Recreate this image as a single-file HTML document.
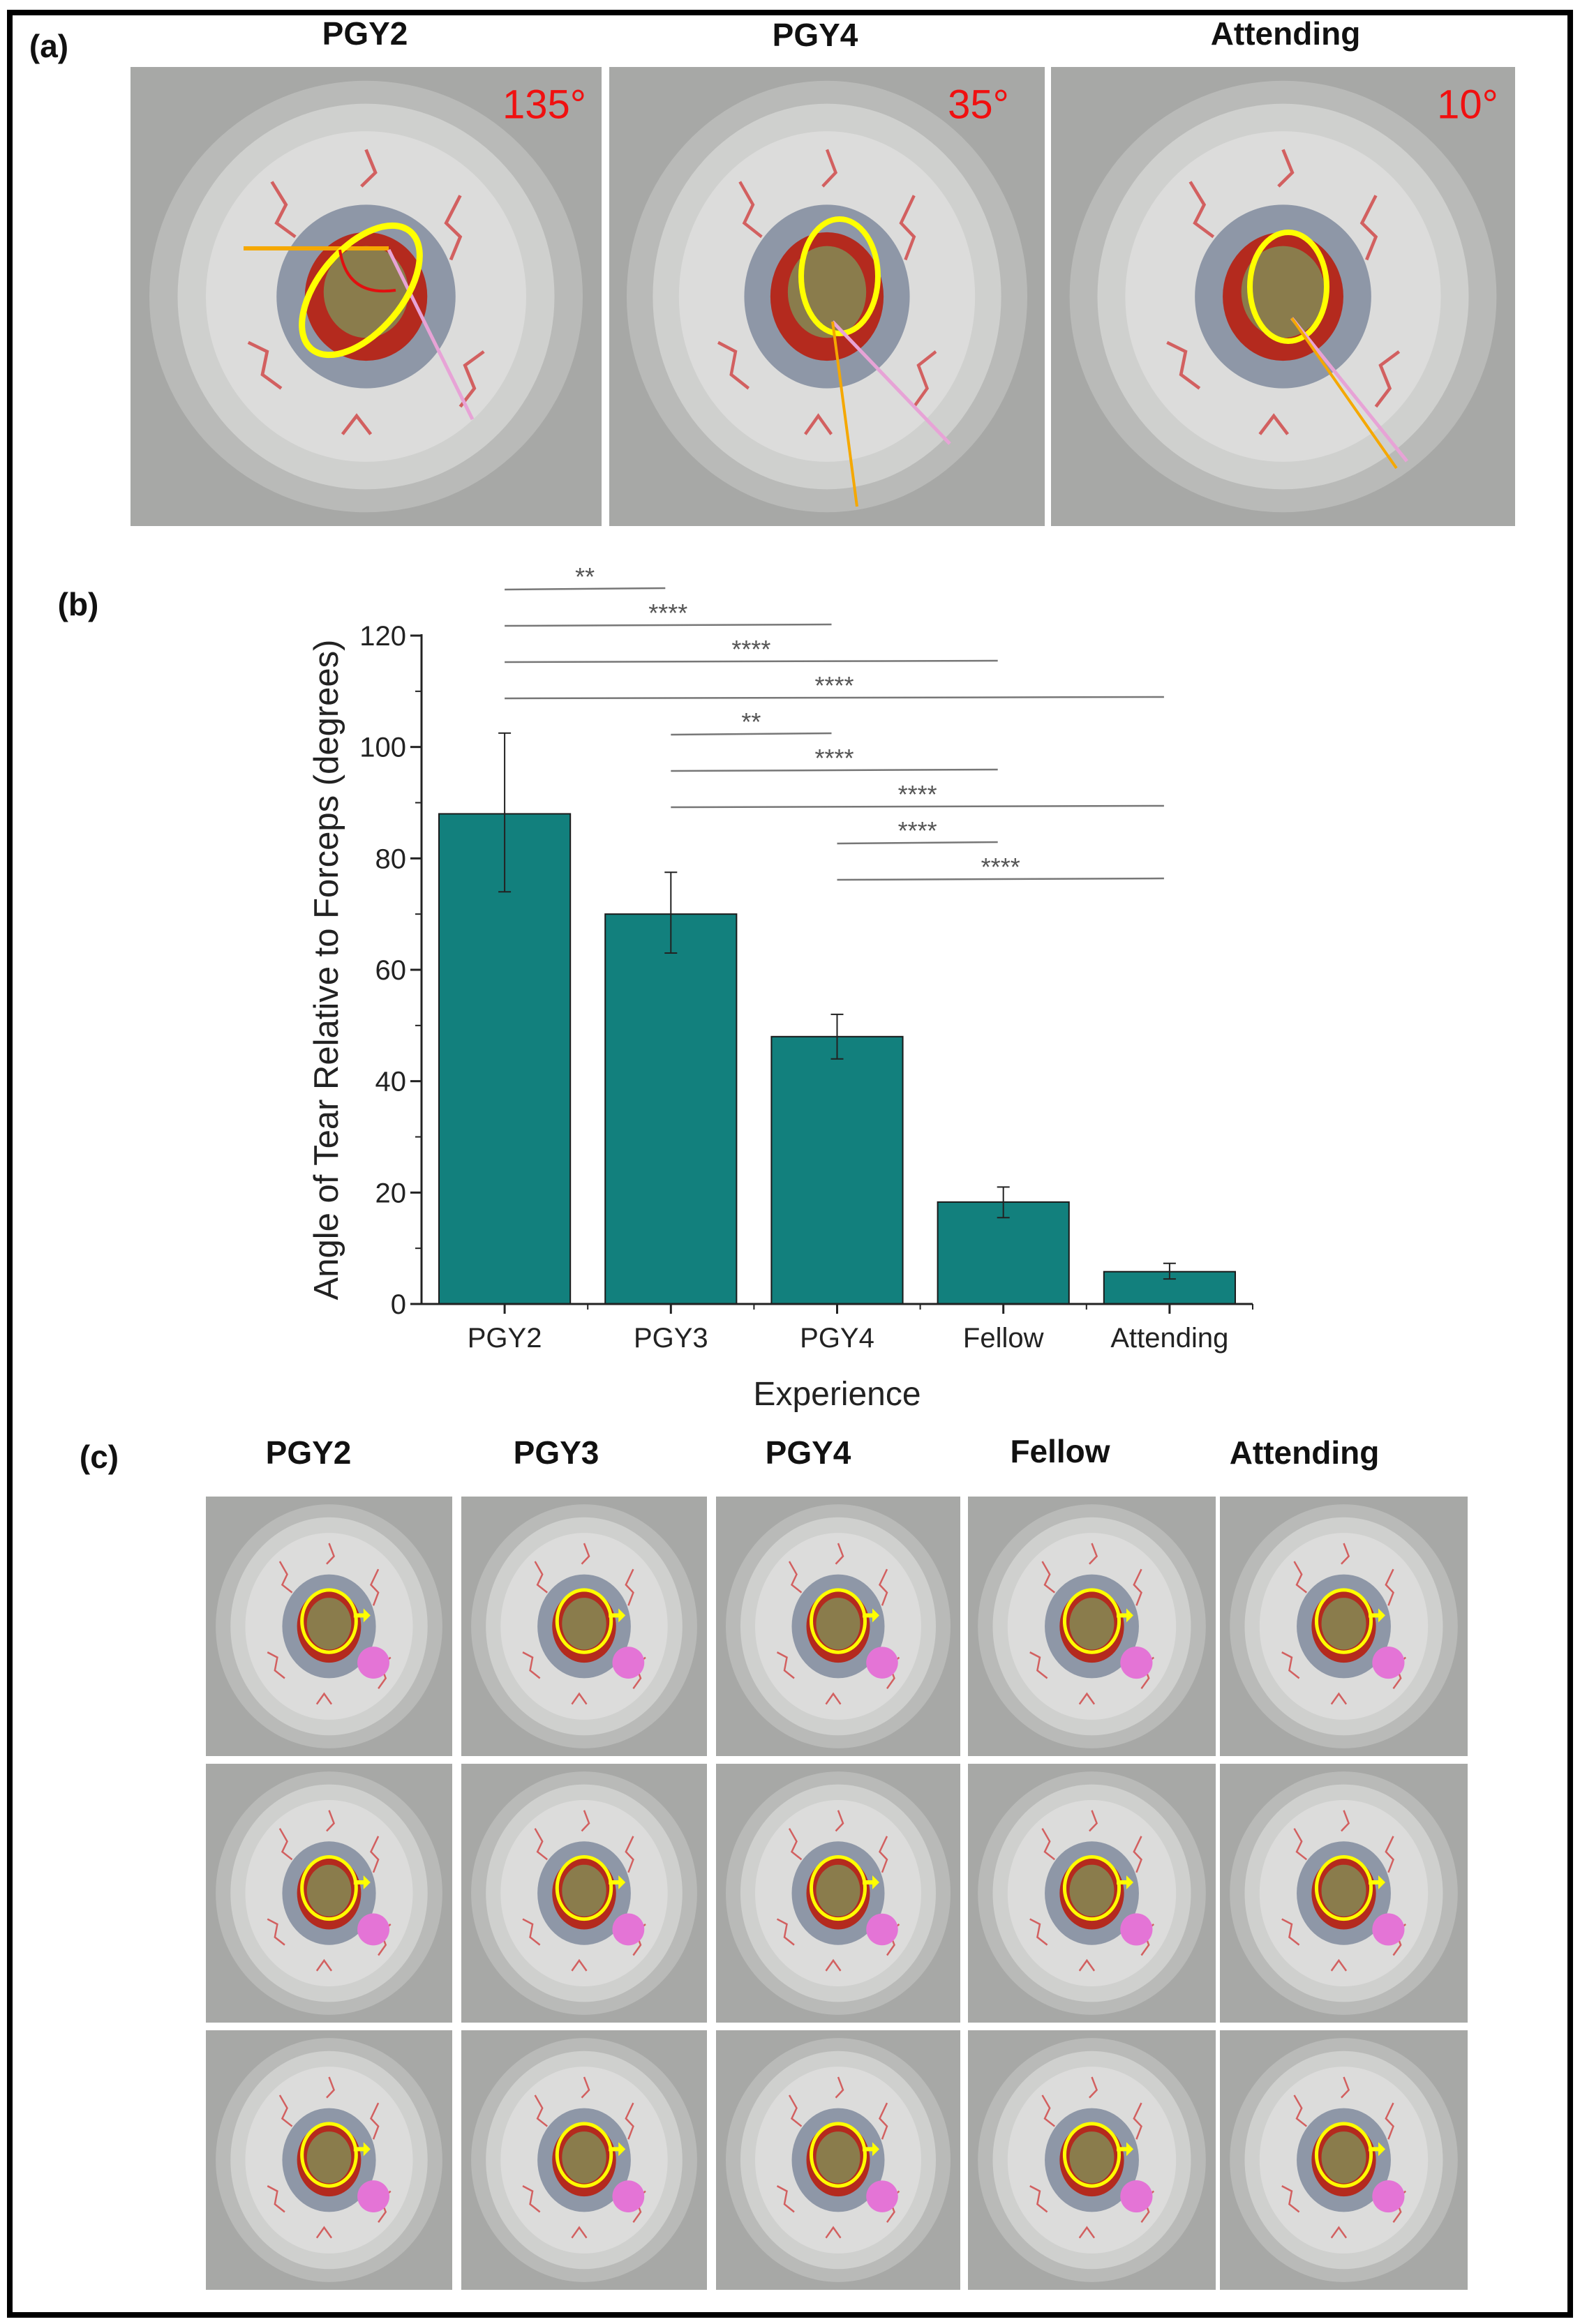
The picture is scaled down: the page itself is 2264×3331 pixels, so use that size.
<!DOCTYPE html>
<html><head><meta charset="utf-8">
<style>
html,body{margin:0;padding:0;background:#fff;}
body{width:2264px;height:3331px;position:relative;overflow:hidden;font-family:"Liberation Sans Narrow","Liberation Sans",sans-serif;}
.frame{position:absolute;left:10px;top:14px;width:2228px;height:3292px;border:8px solid #000;box-sizing:content-box;}
.lbl{position:absolute;font-weight:bold;color:#111;font-size:46px;white-space:nowrap;transform:translate(-50%,-50%);}
.ang{position:absolute;color:#f01010;font-size:58px;transform:translate(-50%,-50%);font-family:"Liberation Sans Narrow","Liberation Sans",sans-serif;}
.photo{position:absolute;}
</style></head>
<body>
<div class="frame"></div>
<svg width="0" height="0" style="position:absolute">
<defs>
<symbol id="eye" viewBox="0 0 100 100" preserveAspectRatio="none">
<rect x="0" y="0" width="100" height="100" fill="#a7a8a6"/>
<ellipse cx="50" cy="50" rx="46" ry="47" fill="#b9bab8"/>
<ellipse cx="50" cy="50" rx="40" ry="42" fill="#cfd0ce"/>
<ellipse cx="50" cy="50" rx="34" ry="36" fill="#dcdcdb"/>
<path d="M30 25 l3 5 l-2 4 l4 3 M70 28 l-3 6 l3 3 l-2 5 M25 60 l4 2 l-1 5 l4 3 M75 62 l-4 3 l2 5 l-3 4 M50 18 l2 5 l-3 3 M45 80 l3 -4 l3 4" stroke="#d26060" stroke-width="0.7" fill="none"/>
<ellipse cx="50" cy="50" rx="19" ry="20" fill="#8e97a7"/>
<ellipse cx="50" cy="50" rx="13" ry="14" fill="#b42a1e"/>
<ellipse cx="50" cy="49" rx="9" ry="10" fill="#8a7c4c"/>
</symbol>
</defs>
</svg>

<!-- Panel (a) -->
<div class="lbl" style="left:70px;top:66px;">(a)</div>
<div class="lbl" style="left:523px;top:48px;">PGY2</div>
<div class="lbl" style="left:1168px;top:50px;">PGY4</div>
<div class="lbl" style="left:1842px;top:48px;">Attending</div>

<svg class="photo" style="left:187px;top:96px" width="675" height="658">
<use href="#eye" width="675" height="658"/>
<line x1="162" y1="260" x2="370" y2="260" stroke="#f5a800" stroke-width="6"/>
<line x1="370" y1="262" x2="490" y2="505" stroke="#e7a3d6" stroke-width="5"/>
<ellipse cx="330" cy="320" rx="60" ry="110" transform="rotate(40 330 320)" fill="none" stroke="#ffff00" stroke-width="9"/>
<path d="M300 262 Q310 330 380 320" stroke="#e01010" stroke-width="4" fill="none"/>
</svg>
<div class="ang" style="left:780px;top:150px">135°</div>

<svg class="photo" style="left:873px;top:96px" width="624" height="658">
<use href="#eye" width="624" height="658"/>
<ellipse cx="330" cy="300" rx="55" ry="82" fill="none" stroke="#ffff00" stroke-width="8"/>
<line x1="320" y1="365" x2="488" y2="540" stroke="#e7a3d6" stroke-width="5"/>
<line x1="320" y1="365" x2="355" y2="630" stroke="#f5a800" stroke-width="4"/>
</svg>
<div class="ang" style="left:1402px;top:150px">35°</div>

<svg class="photo" style="left:1506px;top:96px" width="665" height="658">
<use href="#eye" width="665" height="658"/>
<ellipse cx="340" cy="315" rx="55" ry="78" fill="none" stroke="#ffff00" stroke-width="8"/>
<line x1="345" y1="360" x2="510" y2="565" stroke="#e7a3d6" stroke-width="5"/>
<line x1="345" y1="360" x2="495" y2="575" stroke="#f5a800" stroke-width="4"/>
</svg>
<div class="ang" style="left:2103px;top:150px">10°</div>

<!-- Panel (b) -->
<div class="lbl" style="left:112px;top:866px;">(b)</div>
<svg id="chart" style="position:absolute;left:0;top:0" width="2264" height="2060"></svg>

<!-- Panel (c) -->
<div class="lbl" style="left:142px;top:2088px;">(c)</div>
<div class="lbl" style="left:442px;top:2082px;">PGY2</div>
<div class="lbl" style="left:797px;top:2082px;">PGY3</div>
<div class="lbl" style="left:1158px;top:2082px;">PGY4</div>
<div class="lbl" style="left:1519px;top:2080px;">Fellow</div>
<div class="lbl" style="left:1869px;top:2082px;">Attending</div>
<div id="grid"></div>

<script>
const NS='http://www.w3.org/2000/svg';
const categories=['PGY2','PGY3','PGY4','Fellow','Attending'];
const values=[88,70,48,18.3,5.8];
const errLow=[74,63,44,15.5,4.5];
const errHigh=[102.5,77.5,52,21,7.3];
const yTicks=[0,20,40,60,80,100,120];
const sigFrom=[0,0,0,0,1,1,1,2,2];
const sigTo=[1,2,3,4,2,3,4,3,4];
const sigLabels=['**','****','****','****','**','****','****','****','****'];
const sigLevels=[0,1,2,3,4,5,6,7,8];

const X0=604,X1=1795,Y0=1869,Ymax=911,vMax=120;
const step=(X1-X0)/categories.length;
const xC=i=>X0+step*(i+0.5);
const y=v=>Y0-(v/vMax)*(Y0-Ymax);
const sigY=l=>845+l*52;
const svg=document.getElementById('chart');
function mk(tag,attrs){const e=document.createElementNS(NS,tag);for(const k in attrs)e.setAttribute(k,attrs[k]);svg.appendChild(e);return e;}

const barW=step*0.79;
categories.forEach((c,i)=>{
  const b=mk('rect',{x:xC(i)-barW/2,y:y(values[i]),width:barW,height:Y0-y(values[i]),fill:'#12807d',stroke:'#1a1a1a','stroke-width':2});
  
  
  const e=mk('path',{d:`M${xC(i)} ${y(errLow[i])}V${y(errHigh[i])}M${xC(i)-9} ${y(errLow[i])}h18M${xC(i)-9} ${y(errHigh[i])}h18`,stroke:'#222','stroke-width':2,fill:'none'});
  
  
  const t=mk('text',{x:xC(i),y:Y0+62,'text-anchor':'middle','font-size':40,'font-family':'Liberation Sans, sans-serif',fill:'#222'});
  t.textContent=c;
  
  
  mk('line',{x1:xC(i),x2:xC(i),y1:Y0,y2:Y0+14,stroke:'#222','stroke-width':3});
  mk('line',{x1:X0+step*(i+1),x2:X0+step*(i+1),y1:Y0,y2:Y0+8,stroke:'#222','stroke-width':2});
});
const ax=mk('path',{d:`M${X0} ${Ymax-2}V${Y0}H${X1}`,stroke:'#222','stroke-width':3,fill:'none'});


yTicks.forEach(v=>{
  mk('line',{x1:X0-16,x2:X0,y1:y(v),y2:y(v),stroke:'#222','stroke-width':3});
  if(v<vMax) mk('line',{x1:X0-9,x2:X0,y1:y(v+10),y2:y(v+10),stroke:'#222','stroke-width':2});
  const t=mk('text',{x:X0-22,y:y(v)+14,'text-anchor':'end','font-size':40,'font-family':'Liberation Sans, sans-serif',fill:'#222'});
  t.textContent=v;
  
  
});
const yt=mk('text',{x:0,y:0,'text-anchor':'middle','font-size':49,'font-family':'Liberation Sans, sans-serif',fill:'#222',transform:`translate(484 ${(Y0+Ymax)/2}) rotate(-90)`});
yt.textContent='Angle of Tear Relative to Forceps (degrees)';


const xt=mk('text',{x:(X0+X1)/2,y:Y0+145,'text-anchor':'middle','font-size':48,'font-family':'Liberation Sans, sans-serif',fill:'#222'});
xt.textContent='Experience';


sigFrom.forEach((f,k)=>{
  const x1=xC(f),x2=xC(sigTo[k])-8,yy=sigY(sigLevels[k]);
  const l=mk('line',{x1:x1,x2:x2,y1:yy,y2:yy-2,stroke:'#777','stroke-width':2.5});
  
  
  const t=mk('text',{x:(x1+x2)/2,y:yy-6,'text-anchor':'middle','font-size':36,'font-family':'Liberation Sans, sans-serif',fill:'#555'});
  t.textContent=sigLabels[k];
  
  
});

// panel c grid
const colX=[295,661,1026,1387,1748], colW=[353,352,350,355,355];
const rowY=[2145,2528,2910], rowH=[372,371,372];
const grid=document.getElementById('grid');
rowY.forEach((ry,r)=>colX.forEach((cx,c)=>{
  const s=document.createElementNS(NS,'svg');
  s.setAttribute('class','photo');
  s.setAttribute('style',`left:${cx}px;top:${ry}px`);
  s.setAttribute('width',colW[c]);s.setAttribute('height',rowH[r]);
  
  
  const w=colW[c],h=rowH[r];
  s.innerHTML=`<use href="#eye" width="${w}" height="${h}"/>
  <ellipse cx="${w*0.5}" cy="${h*0.48}" rx="${w*0.11}" ry="${h*0.12}" fill="none" stroke="#ffff00" stroke-width="5"/>
  <path d="M${w*0.6} ${h*0.45} l14 0 l0 -7 l10 10 l-10 10 l0 -7 l-14 0z" fill="#ffff00"/>
  <circle cx="${w*0.68}" cy="${h*0.64}" r="${w*0.065}" fill="#e474d6"/>`;
  grid.appendChild(s);
}));
</script>
</body></html>
